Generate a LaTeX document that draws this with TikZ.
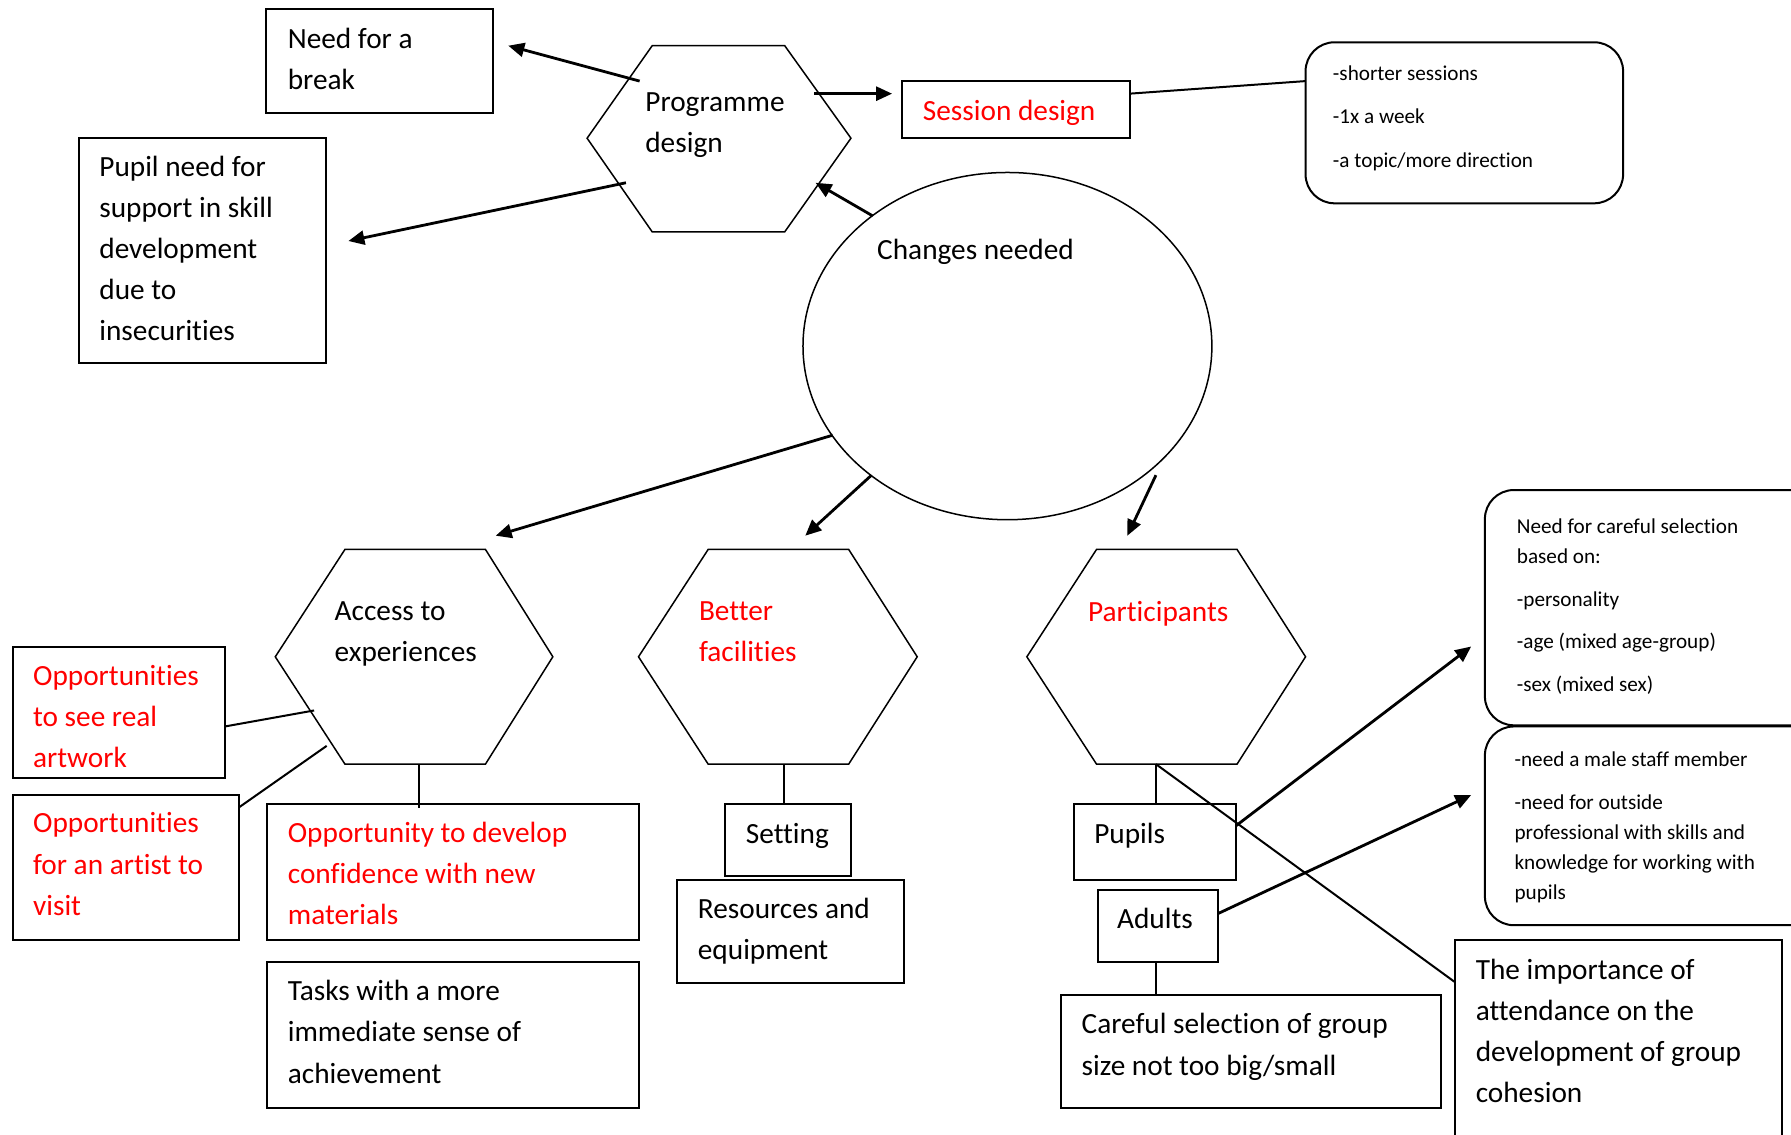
\documentclass[tikz,border=0pt]{standalone}
\usepackage{fontspec}
\setmainfont{Carlito}[Ligatures=NoCommon]
\usetikzlibrary{arrows.meta,fit}
\newcommand\mainsize{\fontsize{14.65pt}{20.56pt}\selectfont}
\newcommand\notesize{\fontsize{10.6pt}{15pt}\selectfont}
\begin{document}
\begin{tikzpicture}[x=0.5711pt,y=-0.5711pt,
  every node/.style={inner sep=0pt,outer sep=0pt},
  box/.style={draw,line width=1pt},
  notebox/.style={draw,line width=1pt,rounded corners=14.5pt},
  hex/.style={draw,line width=0.75pt},
  txt/.style={font=\mainsize,align=left,anchor=west},
  redtxt/.style={txt,text=red},
  notetxt/.style={font=\notesize,align=left,anchor=west},
  arr/.style={line width=1.4pt,-{Triangle[length=8pt,width=7pt]}},
  link/.style={line width=1pt},
]
\useasboundingbox (0,0) rectangle (1568,993);
\clip (0,0) rectangle (1568,993);

% central ellipse
\draw[hex] (882,303) ellipse [x radius=179,y radius=152];
\node[txt] (changes) at (768,220) {\strut Changes needed};

% hexagons
\draw[hex] (571,40) -- (687,40) -- (745,121) -- (687,203) -- (571,203) -- (514,121) -- cycle;
\node[txt] (programme) at (565,108.5) {\strut Programme\\\strut design};

\draw[hex] (302,481) -- (425,481) -- (484,575) -- (425,669) -- (302,669) -- (241,575) -- cycle;
\node[txt] (access) at (293,554) {\strut Access to\\\strut experiences};

\draw[hex] (620,481) -- (743,481) -- (803,575) -- (743,669) -- (620,669) -- (559,575) -- cycle;
\node[redtxt] (better) at (612,554) {\strut Better\\\strut facilities};

\draw[hex] (960,481) -- (1083,481) -- (1143,575) -- (1083,669) -- (960,669) -- (899,575) -- cycle;
\node[redtxt,anchor=center] (participants) at (1014,537) {\strut Participants};

% rectangular boxes
\node[box,fit={(233,8) (432,99)}] (need) {};
\node[txt] (needt) at (252,53) {\strut Need for a\\\strut break};

\node[box,fit={(69,121) (285,318)}] (pupilneed) {};
\node[txt] (pupilneedt) at (87,219) {\strut Pupil need for\\\strut support in skill\\\strut development\\\strut due to\\\strut insecurities};

\node[box,fit={(790,71) (989,121)}] (session) {};
\node[redtxt] (sessiont) at (808,98) {\strut Session design};

\node[box,fit={(11,566) (197,681)}] (opp1) {};
\node[redtxt] (opp1t) at (29,629) {\strut Opportunities\\\strut to see real\\\strut artwork};

\node[box,fit={(11,696) (209,823)}] (opp2) {};
\node[redtxt] (opp2t) at (29,758) {\strut Opportunities\\\strut for an artist to\\\strut visit};

\node[box,fit={(234,704) (559,823)}] (develop) {};
\node[redtxt] (developt) at (252,766.5) {\strut Opportunity to develop\\\strut confidence with new\\\strut materials};

\node[box,fit={(234,842) (559,970)}] (tasks) {};
\node[txt] (taskst) at (252,905) {\strut Tasks with a more\\\strut immediate sense of\\\strut achievement};

\node[box,fit={(635,704) (745,767)}] (setting) {};
\node[txt] (settingt) at (653,731) {\strut Setting};

\node[box,fit={(593,770) (791,861)}] (resources) {};
\node[txt] (resourcest) at (611,815) {\strut Resources and\\\strut equipment};

\node[box,fit={(940,704) (1082,770)}] (pupils) {};
\node[txt] (pupilst) at (958,731) {\strut Pupils};

\node[box,fit={(961,779) (1066,842)}] (adults) {};
\node[txt] (adultst) at (978,806) {\strut Adults};

\node[box,fit={(929,871) (1262,970)}] (careful) {};
\node[txt] (carefult) at (947,916) {\strut Careful selection of group\\\strut size not too big/small};

\node[box,fit={(1274,823) (1560,1030)}] (importance) {};
\node[txt] (importancet) at (1292,904) {\strut The importance of\\\strut attendance on the\\\strut development of group\\\strut cohesion};

% rounded note boxes
\node[notebox,fit={(1143,37) (1421,178)}] (sessnotes) {};
\node[notetxt] (sessnotest) at (1167,103) {\strut -shorter sessions\\[6.7pt]\strut -1x a week\\[6.7pt]\strut -a topic/more direction};

\node[notebox,fit={(1300,429) (1610,635)}] (selnotes) {};
\node[notetxt] (selnotest) at (1328,531) {\strut Need for careful selection\\\strut based on:\\[6.3pt]\strut -personality\\[6.3pt]\strut -age (mixed age-group)\\[6.3pt]\strut -sex (mixed sex)};

\node[notebox,fit={(1300,636) (1610,810)}] (staffnotes) {};
\node[notetxt] (staffnotest) at (1326,724) {\strut -need a male staff member\\[6.3pt]\strut -need for outside\\\strut professional with skills and\\\strut knowledge for working with\\\strut pupils};

% connector end points
\coordinate (progA) at (560,71);
\coordinate (needIn) at (445,40);
\coordinate (progB) at (548,160);
\coordinate (pupilneedIn) at (305,211);
\coordinate (progC) at (713,82);
\coordinate (sessionIn) at (781,82);
\coordinate (sessionOut) at (989,82);
\coordinate (sessnotesIn) at (1143,71);
\coordinate (chA) at (764,189);
\coordinate (progIn) at (714,160);
\coordinate (chB) at (729,381);
\coordinate (accessIn) at (434,469);
\coordinate (chC) at (763,416);
\coordinate (betterIn) at (705,469);
\coordinate (chD) at (1012,416);
\coordinate (partIn) at (987,469);
\coordinate (opp1Out) at (197,636);
\coordinate (accessA) at (275,622);
\coordinate (opp2Out) at (209,707);
\coordinate (accessB) at (286,653);
\coordinate (accessBot) at (367,669);
\coordinate (developIn) at (367,707);
\coordinate (betterBot) at (686,669);
\coordinate (partBot) at (1012,669);
\coordinate (importanceIn) at (1274,860);
\coordinate (pupilsOut) at (1082,723);
\coordinate (selnotesIn) at (1288,566);
\coordinate (adultsOut) at (1066,800);
\coordinate (staffnotesIn) at (1288,696);

% arrows
\draw[arr] (progA) -- (needIn);
\draw[arr] (progB) -- (pupilneedIn);
\draw[arr] (progC) -- (sessionIn);
\draw[arr] (chA) -- (progIn);
\draw[arr] (chB) -- (accessIn);
\draw[arr] (chC) -- (betterIn);
\draw[arr] (chD) -- (partIn);
\draw[arr] (pupilsOut) -- (selnotesIn);
\draw[arr] (adultsOut) -- (staffnotesIn);

% plain links
\draw[link] (sessionOut) -- (sessnotesIn);
\draw[link] (opp1Out) -- (accessA);
\draw[link] (opp2Out) -- (accessB);
\draw[link] (accessBot) -- (developIn);
\draw[link] (betterBot) -- (setting.north -| betterBot);
\draw[link] (partBot) -- (pupils.north -| partBot);
\draw[link] (adults.south -| partBot) -- (careful.north -| partBot);
\draw[link] (partBot) -- (importanceIn);
\end{tikzpicture}
\end{document}
